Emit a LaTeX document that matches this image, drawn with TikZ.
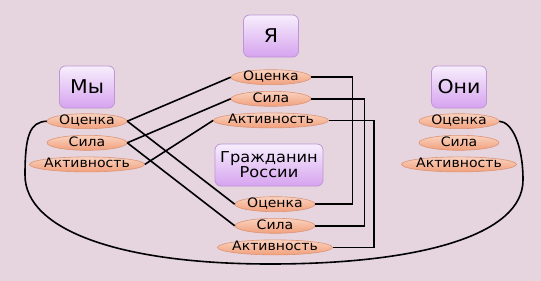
\documentclass[tikz,border=0pt]{standalone}
\usepackage{fontspec}
\newfontfamily\diagfont{DejaVu Sans}[FakeStretch=1.08]
\usepackage{xcolor}
\definecolor{pBack}{HTML}{E6D4DF}
\definecolor{pBoxTop}{HTML}{F7EEFC}
\definecolor{pBoxBot}{HTML}{D6A3EF}
\definecolor{pBoxLine}{HTML}{BE96D6}
\definecolor{pOvalTop}{HTML}{FAD2BF}
\definecolor{pOvalMid}{HTML}{FEEADF}
\definecolor{pOvalBot}{HTML}{F1A07C}
\definecolor{pOvalLine}{HTML}{DC9577}
\usepackage{tikz}
\usetikzlibrary{arrows.meta, positioning, shapes.geometric, calc}

\begin{document}
\begin{tikzpicture}[
  x=1pt, y=-1pt,
  node distance=6pt,
  every node/.style={font=\diagfont},
  group/.style={rectangle, rounded corners=6pt, draw=pBoxLine, line width=0.8pt,
                top color=pBoxTop, bottom color=pBoxBot,
                minimum width=55pt, minimum height=42pt, align=center,
                font=\diagfont\fontsize{19}{20}\selectfont},
  trait/.style={ellipse, draw=pOvalLine, line width=0.6pt,
                top color=pOvalTop, middle color=pOvalMid, bottom color=pOvalBot,
                minimum width=80pt, minimum height=15pt,
                inner xsep=-6pt, inner ysep=-2pt, text height=9pt, text depth=2pt,
                font=\diagfont\fontsize{13}{13}\selectfont},
  wide/.style={minimum width=115pt},
  link/.style={draw=black, line width=1.6pt}
]
\fill[pBack] (0,0) rectangle (541,281);
\useasboundingbox (0,0) rectangle (541,281);

% groups
\node[group] (we)   at (87,87)  {Мы};
\node[group] (me)   at (271,36) {Я};
\node[group] (they) at (459,87) {Они};
\node[group, minimum width=108pt, font=\diagfont\fontsize{15}{15}\selectfont]
  (cit) at (269,165) {Гражданин\\России};

% scales
\node[trait, below=5pt of we]        (weRate)  {Оценка};
\node[trait, below=of weRate]        (weForce) {Сила};
\node[trait, wide, below=of weForce] (weAct)   {Активность};

\node[trait, below=12pt of me]       (meRate)  {Оценка};
\node[trait, below=of meRate]        (meForce) {Сила};
\node[trait, wide, below=of meForce] (meAct)   {Активность};

\node[trait, below=10pt of cit, xshift=6pt] (citRate)  {Оценка};
\node[trait, below=of citRate]        (citForce) {Сила};
\node[trait, wide, below=of citForce] (citAct)   {Активность};

\node[trait, below=5pt of they]        (theyRate)  {Оценка};
\node[trait, below=of theyRate]        (theyForce) {Сила};
\node[trait, wide, below=of theyForce] (theyAct)   {Активность};

% links
\foreach \a/\b in {weRate/meRate, weRate/citRate, weForce/meForce,
                   weForce/citForce, weAct/meAct}
  \draw[link] (\a.east) -- (\b.west);
\foreach \a/\b/\d in {meRate/citRate/41, meForce/citForce/53, meAct/citAct/45}
  \draw[link] (\a.east) -- ++(\d,0) |- (\b.east);
\draw[link] (weRate.west) .. controls (30,122) and (25,135) .. (25,175)
  .. controls (25,230) and (120,264) .. (270,264)
  .. controls (420,264) and (523,235) .. (523,180)
  .. controls (523,145) and (512,122) .. (theyRate.east);
\end{tikzpicture}
\end{document}
